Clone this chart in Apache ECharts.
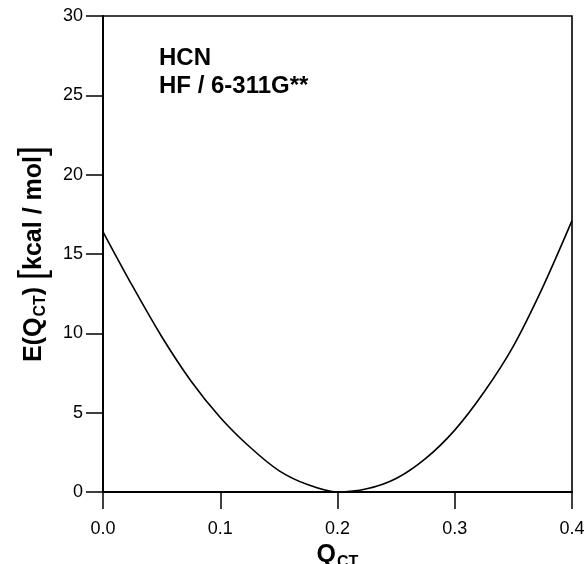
<!DOCTYPE html>
<html>
<head>
<meta charset="utf-8">
<script src="https://cdn.jsdelivr.net/npm/echarts@6/dist/echarts.min.js"></script>
<style>
html,body{margin:0;padding:0;background:#fff;}
#chart{width:584px;height:564px;}
</style>
</head>
<body>
<div id="chart"></div>
<script>
// Charge-transfer coordinate Q_CT and energy E(Q_CT) in kcal/mol
const qValues = [0.000, 0.025, 0.050, 0.075, 0.100, 0.125, 0.150, 0.175, 0.200, 0.225, 0.250, 0.275, 0.300, 0.325, 0.350, 0.375, 0.400];
const energies = [16.4, 13.0, 9.8, 7.0, 4.7, 2.85, 1.35, 0.45, 0.0, 0.2, 0.85, 2.1, 3.9, 6.3, 9.2, 12.9, 17.1];
const xTicks = [0.0, 0.1, 0.2, 0.3, 0.4];
const yTicks = [0, 5, 10, 15, 20, 25, 30];
const annotationLines = ['HCN', 'HF / 6-311G**'];

const font = 'Liberation Sans, Arial, Helvetica, sans-serif';
const chart = echarts.init(document.getElementById('chart'), null, {renderer: 'canvas'});

const seriesData = qValues.map((q, i) => [q, energies[i]]);

chart.setOption({
  backgroundColor: '#fff',
  animation: false,
  grid: {
    left: 103, right: 12, top: 16, bottom: 72,
    containLabel: false,
    outerBoundsMode: 'none',
    show: true, borderColor: '#000', borderWidth: 1.6, backgroundColor: 'transparent'
  },
  xAxis: {
    type: 'value',
    min: xTicks[0], max: xTicks[xTicks.length - 1], interval: 0.1,
    axisLine: {show: true, onZero: false, lineStyle: {color: '#000', width: 2}},
    axisTick: {show: true, inside: false, length: 17, lineStyle: {color: '#000', width: 1.5}},
    axisLabel: {color: '#000', fontSize: 18, fontFamily: font, margin: 28,
      formatter: v => v.toFixed(1)},
    splitLine: {show: false},
    name: '{q|Q}{sub|CT}',
    nameLocation: 'middle',
    nameGap: 42,
    nameTextStyle: {
      rich: {
        q: {fontSize: 25, fontWeight: 'bold', fontFamily: font, color: '#000'},
        sub: {fontSize: 16, fontWeight: 'bold', fontFamily: font, color: '#000', padding: [14, 0, 0, 1]}
      }
    }
  },
  yAxis: {
    type: 'value',
    min: yTicks[0], max: yTicks[yTicks.length - 1], interval: 5,
    axisLine: {show: true, lineStyle: {color: '#000', width: 2}},
    axisTick: {show: true, inside: false, length: 17, lineStyle: {color: '#000', width: 1.5}},
    axisLabel: {color: '#000', fontSize: 18, fontFamily: font, margin: 20},
    splitLine: {show: false},
    name: '{m|E(Q}{sub|CT}{m|) }{br|[}{m|kcal / mol}{br|]}',
    nameLocation: 'middle',
    nameGap: 48,
    nameTextStyle: {
      rich: {
        m: {fontSize: 25, fontWeight: 'bold', fontFamily: font, color: '#000'},
        sub: {fontSize: 16, fontWeight: 'bold', fontFamily: font, color: '#000', padding: [14, 0, 0, 1]},
        br: {fontSize: 36, fontWeight: 'normal', fontFamily: font, color: '#000'}
      }
    }
  },
  graphic: [{
    type: 'text',
    left: 159, top: 44,
    style: {
      text: annotationLines.join('\n'),
      font: 'bold 24px ' + font,
      fill: '#000',
      lineHeight: 28
    }
  }],
  series: [{
    type: 'line',
    data: seriesData,
    showSymbol: false,
    smooth: 0.3,
    lineStyle: {color: '#000', width: 1.6},
    clip: true
  }]
});
</script>
</body>
</html>
